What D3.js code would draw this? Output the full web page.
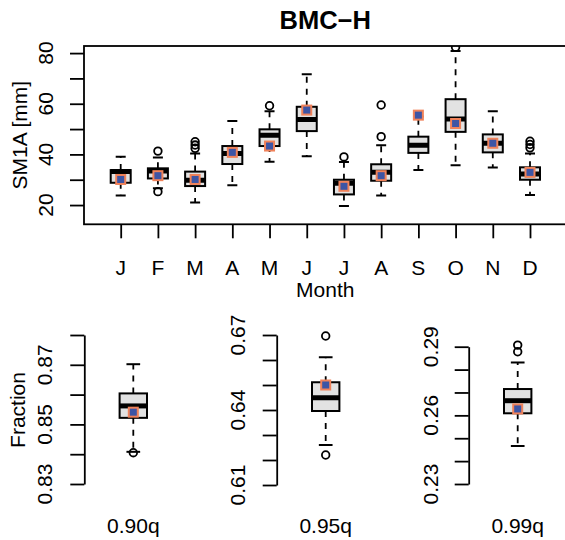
<!DOCTYPE html>
<html>
<head>
<meta charset="utf-8">
<script src="https://cdn.jsdelivr.net/npm/d3@7"></script>
<style>
  html, body { margin: 0; padding: 0; background: #fff; }
  svg { display: block; font-family: "Liberation Sans", Arial, Helvetica, sans-serif; }
</style>
</head>
<body>
<svg id="chart" width="565" height="540"></svg>
<script>
// Monthly SM1A box statistics (mm)
const months = ["J","F","M","A","M","J","J","A","S","O","N","D"];
const monthLow  = [23.8, 26.6, 21.0, 27.8, 37.1, 39.3, 19.6, 23.8, 33.8, 35.7, 34.8, 24.0];
const monthQ1   = [28.8, 30.5, 27.5, 36.2, 43.3, 49.2, 24.2, 29.6, 40.6, 48.9, 40.8, 30.0];
const monthMed  = [33.2, 33.4, 29.8, 40.4, 47.6, 53.8, 28.6, 33.0, 43.6, 54.0, 44.4, 32.3];
const monthQ3   = [33.8, 34.5, 33.2, 43.3, 49.9, 58.8, 30.0, 36.1, 47.0, 61.8, 47.9, 34.9];
const monthHigh = [39.1, 38.8, 40.4, 53.2, 57.0, 71.6, 37.0, 43.6, 55.0, 80.8, 57.0, 40.4];
const monthOutliers = [[], [41.3, 25.3], [45.0, 43.7, 42.4], [], [59.2], [], [39.0],
                       [59.5, 47.0], [], [82.3], [], [45.2, 43.9, 42.6]];
const monthObs  = [30.1, 31.6, 30.1, 40.8, 43.3, 57.5, 27.4, 31.6, 55.5, 52.2, 44.4, 32.9];
const monthTicks = [20, 30, 40, 50, 60, 70, 80];
const monthTickLabels = [20, 40, 60, 80];

// Quantile fraction box statistics
const qLabels   = ["0.90q", "0.95q", "0.99q"];
const qLow      = [0.8408, 0.6260, 0.2466];
const qQ1       = [0.8522, 0.6396, 0.2609];
const qMed      = [0.8562, 0.6449, 0.2664];
const qQ3       = [0.8604, 0.6511, 0.2715];
const qHigh     = [0.8702, 0.6611, 0.2831];
const qOutliers = [[0.8405], [0.6696, 0.6220], [0.2907, 0.2878]];
const qObs      = [0.8541, 0.6500, 0.2628];
const qTicks = [
  [0.83, 0.84, 0.85, 0.86, 0.87, 0.88],
  [0.61, 0.62, 0.63, 0.64, 0.65, 0.66, 0.67],
  [0.23, 0.24, 0.25, 0.26, 0.27, 0.28, 0.29]
];
const qTickLabels = [[0.83, 0.85, 0.87], [0.61, 0.64, 0.67], [0.23, 0.26, 0.29]];

const FS = 21;
const BOX_FILL = "#e2e2e2";
const OBS_FILL = "#3d55a5";
const OBS_STROKE = "#f0825a";

const svg = d3.select("#chart");

// draws one box-and-whisker glyph plus the observed marker
function drawBox(g, cx, halfW, y, s, clipId) {
  const grp = g.append("g");
  if (clipId) grp.attr("clip-path", `url(#${clipId})`);
  const stapleW = halfW * 0.5;
  // whiskers
  [[s.q3, s.high], [s.q1, s.low]].forEach(([a, b]) => {
    grp.append("line")
      .attr("x1", cx).attr("x2", cx).attr("y1", y(a)).attr("y2", y(b))
      .attr("stroke", "#000").attr("stroke-width", 1.8)
      .attr("stroke-dasharray", "6,6");
    grp.append("line")
      .attr("x1", cx - stapleW).attr("x2", cx + stapleW)
      .attr("y1", y(b)).attr("y2", y(b))
      .attr("stroke", "#000").attr("stroke-width", 2);
  });
  // box
  grp.append("rect")
    .attr("x", cx - halfW).attr("width", 2 * halfW)
    .attr("y", y(s.q3)).attr("height", y(s.q1) - y(s.q3))
    .attr("fill", BOX_FILL).attr("stroke", "#000").attr("stroke-width", 2);
  // median
  grp.append("line")
    .attr("x1", cx - halfW).attr("x2", cx + halfW)
    .attr("y1", y(s.med)).attr("y2", y(s.med))
    .attr("stroke", "#000").attr("stroke-width", 5);
  // outliers
  grp.selectAll("circle.out").data(s.out).enter().append("circle")
    .attr("class", "out")
    .attr("cx", cx).attr("cy", d => y(d)).attr("r", 3.8)
    .attr("fill", "none").attr("stroke", "#000").attr("stroke-width", 1.8);
  // observed value
  grp.append("rect")
    .attr("x", cx - 4.5).attr("y", y(s.obs) - 4.5)
    .attr("width", 9).attr("height", 9)
    .attr("fill", OBS_FILL).attr("stroke", OBS_STROKE).attr("stroke-width", 2);
}

// ---------- top panel: monthly SM1A ----------
const plotL = 84, plotR = 566.5, plotT = 46, plotB = 224.3;
const x = d3.scaleLinear().domain([1, 12]).range([120.7, 530]);
const y = d3.scaleLinear().domain([12.4, 82.8]).range([plotB, plotT]);

svg.append("clipPath").attr("id", "topclip")
  .append("rect").attr("x", plotL).attr("y", plotT)
  .attr("width", plotR - plotL).attr("height", plotB - plotT);

const topPanel = svg.append("g");
months.forEach((m, i) => {
  drawBox(topPanel, x(i + 1), 10, y, {
    low: monthLow[i], q1: monthQ1[i], med: monthMed[i], q3: monthQ3[i],
    high: monthHigh[i], out: monthOutliers[i], obs: monthObs[i]
  }, "topclip");
});

// frame
topPanel.append("rect")
  .attr("x", plotL).attr("y", plotT)
  .attr("width", plotR - plotL).attr("height", plotB - plotT)
  .attr("fill", "none").attr("stroke", "#000").attr("stroke-width", 1.8);

// y axis
const yAxis = d3.axisLeft(y).tickValues(monthTicks).tickSize(14).tickFormat("");
const yg = topPanel.append("g").attr("transform", `translate(${plotL},0)`).call(yAxis);
yg.select(".domain").remove();
yg.selectAll(".tick line").attr("stroke-width", 1.8);
topPanel.selectAll("text.ylab").data(monthTickLabels).enter().append("text")
  .attr("transform", d => `translate(53,${y(d)}) rotate(-90)`)
  .attr("text-anchor", "middle").attr("font-size", FS).text(d => d);

// x axis
const xAxis = d3.axisBottom(x).tickValues(d3.range(1, 13)).tickSize(14).tickFormat("");
const xg = topPanel.append("g").attr("transform", `translate(0,${plotB})`).call(xAxis);
xg.select(".domain").remove();
xg.selectAll(".tick line").attr("stroke-width", 1.8);
topPanel.selectAll("text.xlab").data(months).enter().append("text")
  .attr("x", (d, i) => x(i + 1)).attr("y", 275)
  .attr("text-anchor", "middle").attr("font-size", FS).text(d => d);

topPanel.append("text").attr("x", (plotL + plotR) / 2).attr("y", 297)
  .attr("text-anchor", "middle").attr("font-size", FS).text("Month");
topPanel.append("text")
  .attr("transform", `translate(27,${(plotT + plotB) / 2}) rotate(-90)`)
  .attr("text-anchor", "middle").attr("font-size", FS).text("SM1A [mm]");
topPanel.append("text").attr("x", (plotL + plotR) / 2).attr("y", 29)
  .attr("text-anchor", "middle").attr("font-size", 25.5).attr("font-weight", "bold")
  .text("BMC\u2212H");

// ---------- bottom panels: quantile fractions ----------
const axisXs = [84.3, 276.7, 468.7];
const qTopPx = [335, 335, 346.7];
const qBotPx = [484, 485, 484];
const labelBase = [52, 245, 438];

qLabels.forEach((lab, i) => {
  const ticks = qTicks[i];
  const yq = d3.scaleLinear()
    .domain([ticks[0], ticks[ticks.length - 1]])
    .range([qBotPx[i], qTopPx[i]]);
  const xq = d3.scaleLinear().domain([0.46, 1.54]).range([axisXs[i], axisXs[i] + 98]);
  const g = svg.append("g");

  drawBox(g, xq(1), 13.7, yq, {
    low: qLow[i], q1: qQ1[i], med: qMed[i], q3: qQ3[i],
    high: qHigh[i], out: qOutliers[i], obs: qObs[i]
  }, null);

  const ax = d3.axisLeft(yq).tickValues(ticks).tickSize(14).tickSizeOuter(0).tickFormat("");
  const ag = g.append("g").attr("transform", `translate(${axisXs[i]},0)`).call(ax);
  ag.select(".domain").attr("stroke-width", 1.8);
  ag.selectAll(".tick line").attr("stroke-width", 1.8);

  g.selectAll("text.qlab").data(qTickLabels[i]).enter().append("text")
    .attr("transform", d => `translate(${labelBase[i]},${yq(d)}) rotate(-90)`)
    .attr("text-anchor", "middle").attr("font-size", FS)
    .text(d => d3.format(".2f")(d));

  g.append("text").attr("x", xq(1)).attr("y", 533)
    .attr("text-anchor", "middle").attr("font-size", FS).text(lab);
});

svg.append("text")
  .attr("transform", "translate(25,410) rotate(-90)")
  .attr("text-anchor", "middle").attr("font-size", FS).text("Fraction");
</script>
</body>
</html>
